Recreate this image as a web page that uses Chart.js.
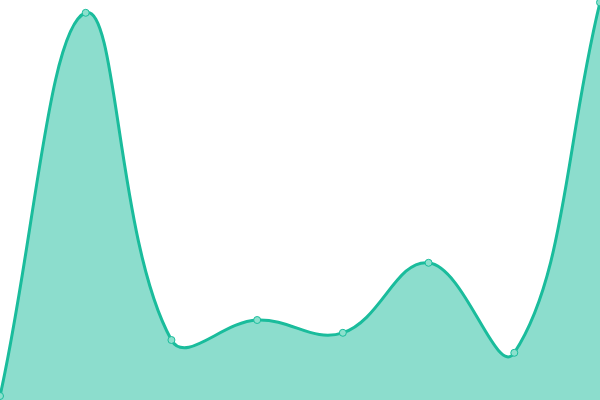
<!DOCTYPE html>
<html>
<head>
<meta charset="utf-8">
<script src="https://cdn.jsdelivr.net/npm/chart.js@4"></script>
<style>
  html, body { margin: 0; padding: 0; background: #fff; }
  #wrap { width: 600px; height: 400px; }
</style>
</head>
<body>
<div id="wrap"><canvas id="chart"></canvas></div>
<script>
'use strict';

// 데이터
const labels = ['1', '2', '3', '4', '5', '6', '7', '8'];
const values = [1, 96.8, 15, 20, 16.8, 34.3, 11.8, 99.4];

new Chart(document.getElementById('chart'), {
  type: 'line',
  data: {
    labels,
    datasets: [{
      data: values,
      borderColor: '#1abc9c',
      backgroundColor: 'rgba(26,188,156,0.5)',
      borderWidth: 3,
      tension: 0.4,
      fill: true,
      pointRadius: 3.5,
      pointBorderWidth: 1,
      pointBorderColor: '#1abc9c',
      pointBackgroundColor: 'rgba(140,224,205,1)',
    }],
  },
  options: {
    responsive: true,
    maintainAspectRatio: false,
    animation: false,
    clip: false,
    layout: { padding: 0, autoPadding: false },
    plugins: { legend: { display: false }, tooltip: { enabled: false } },
    scales: {
      x: { display: false },
      y: { display: false, min: 0, max: 100 },
    },
  },
});
</script>
</body>
</html>
